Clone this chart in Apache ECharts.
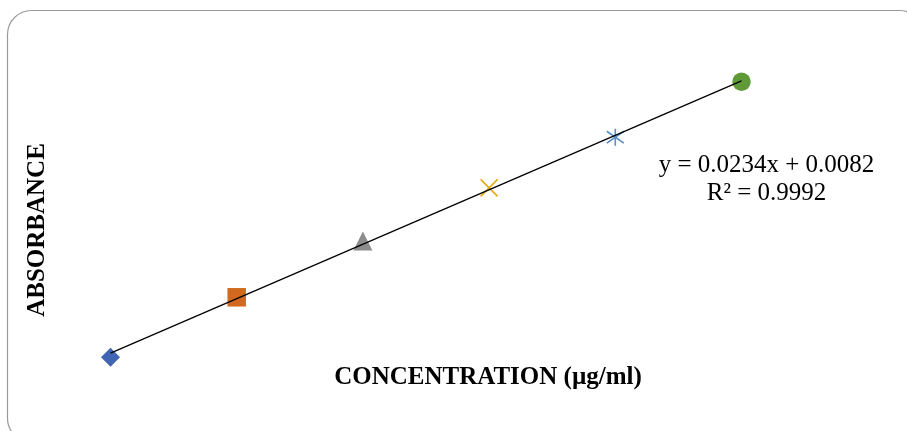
<!DOCTYPE html>
<html>
<head>
<meta charset="utf-8">
<script src="https://cdn.jsdelivr.net/npm/echarts@6/dist/echarts.min.js"></script>
<style>
  html, body { margin: 0; padding: 0; background: #ffffff; }
  #chart { width: 907px; height: 431px; }
</style>
</head>
<body>
<div id="chart"></div>
<script>
// Calibration standards: concentration (µg/ml) and measured absorbance
const concentrations = [5, 10, 15, 20, 25, 30];
const absorbance = [0.116, 0.245, 0.366, 0.480, 0.589, 0.708];

// Linear regression reported for the standard curve
const fitSlope = [0.0234];
const fitIntercept = [0.0082];
const fitR2 = ['0.9992'];

// One marker style per standard
const markerStyles = [
  { symbol: 'diamond', size: 19, fill: '#3F65B3', stroke: null },
  { symbol: 'rect', size: 18.5, fill: '#D2691F', stroke: null },
  { symbol: 'triangle', size: 19, fill: '#8C8C8C', stroke: null },
  { symbol: 'path://M0,0L10,10M10,0L0,10', size: 17, fill: 'transparent', stroke: '#E6AA12' },
  { symbol: 'path://M5,0L5,10M0,1.5L10,8.5M10,1.5L0,8.5', size: 17, fill: 'transparent', stroke: '#5A8DCA' },
  { symbol: 'circle', size: 18.5, fill: '#609A38', stroke: null }
];

const points = concentrations.map((c, i) => {
  const s = markerStyles[i];
  return {
    value: [c, absorbance[i]],
    symbol: s.symbol,
    symbolSize: s.size,
    itemStyle: s.stroke
      ? { color: s.fill, borderColor: s.stroke, borderWidth: 1.6, opacity: 1 }
      : { color: s.fill, borderWidth: 0, opacity: 1 }
  };
});

const xFirst = concentrations[0];
const xLast = concentrations[concentrations.length - 1];
const trend = [
  [xFirst, fitSlope[0] * xFirst + fitIntercept[0]],
  [xLast, fitSlope[0] * xLast + fitIntercept[0]]
];

const serif = '"Liberation Serif", "Times New Roman", serif';

const chart = echarts.init(document.getElementById('chart'));
chart.setOption({
  animation: false,
  backgroundColor: '#ffffff',
  grid: { left: 85.26, right: 140.26, top: 39, bottom: 19.7 },
  xAxis: {
    type: 'value', min: 4, max: 31,
    axisLine: { show: false }, axisTick: { show: false },
    axisLabel: { show: false }, splitLine: { show: false }
  },
  yAxis: {
    type: 'value', min: 0, max: 0.8,
    axisLine: { show: false }, axisTick: { show: false },
    axisLabel: { show: false }, splitLine: { show: false }
  },
  series: [
    {
      type: 'scatter',
      data: points,
      itemStyle: { opacity: 1 },
      z: 2
    },
    {
      type: 'line',
      data: trend,
      symbol: 'none',
      lineStyle: { color: '#000000', width: 1.3 },
      z: 3
    }
  ],
  graphic: [
    {
      type: 'rect',
      shape: { x: 7.5, y: 10.5, width: 916, height: 431.5, r: 24 },
      style: { fill: 'none', stroke: '#9a9a9a', lineWidth: 1.2 },
      z: 0
    },
    {
      type: 'text',
      x: 38, y: 230,
      rotation: Math.PI / 2,
      style: {
        text: 'ABSORBANCE',
        font: 'bold 25px ' + serif,
        fill: '#000000',
        textAlign: 'center',
        textVerticalAlign: 'middle'
      }
    },
    {
      type: 'text',
      x: 488, y: 378,
      style: {
        text: 'CONCENTRATION (µg/ml)',
        font: 'bold 25px ' + serif,
        fill: '#000000',
        textAlign: 'center',
        textVerticalAlign: 'middle'
      }
    },
    {
      type: 'text',
      x: 766.5, y: 165,
      style: {
        text: 'y = ' + fitSlope[0] + 'x + ' + fitIntercept[0],
        font: '25px ' + serif,
        fill: '#000000',
        textAlign: 'center',
        textVerticalAlign: 'middle'
      }
    },
    {
      type: 'text',
      x: 766.5, y: 193,
      style: {
        text: 'R² = ' + fitR2[0],
        font: '25px ' + serif,
        fill: '#000000',
        textAlign: 'center',
        textVerticalAlign: 'middle'
      }
    }
  ]
});
</script>
</body>
</html>
